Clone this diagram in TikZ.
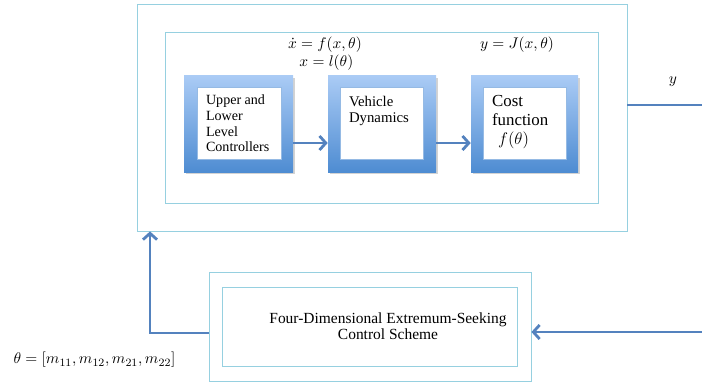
\documentclass[tikz,border=0pt]{standalone}
\usepackage{fontspec}
\setmainfont{Liberation Serif}
\usetikzlibrary{positioning,arrows.meta,shadows,calc}
\definecolor{frameCol}{RGB}{150,208,224}
\definecolor{arrowCol}{RGB}{84,130,190}
\definecolor{blockTop}{RGB}{170,203,245}
\definecolor{blockBot}{RGB}{78,140,210}
\tikzset{
  frame/.style={rectangle,draw=frameCol,line width=0.6pt,inner sep=0pt},
  block/.style={rectangle,top color=blockTop,bottom color=blockBot,
    draw=none,minimum height=24mm,inner sep=0pt,
    drop shadow={opacity=0.35,shadow xshift=0.5mm,shadow yshift=-0.6mm}},
  blockin/.style={rectangle,fill=white,draw=blockBot!60,line width=0.3pt,
    minimum width=21mm,minimum height=18mm,inner sep=0pt},
  btxt/.style={font=\fontsize{10}{11.1}\selectfont,align=left,
    inner sep=0pt,anchor=north west},
  eq/.style={font=\fontsize{11}{12.8}\selectfont,align=center,inner sep=0pt},
  arr/.style={-{Straight Barb[length=4.5pt,width=10pt]},line width=2pt,
    color=arrowCol},
  lnk/.style={line width=2pt,color=arrowCol},
}

\begin{document}
\begin{tikzpicture}
\useasboundingbox (0,0) rectangle (17.55,9.575);

% =====================================================================
%  TOP — plant with the three blocks
% =====================================================================
\node[frame,minimum width=122.5mm,minimum height=56.75mm] (plant) at (9.55,6.6375) {};
\node[frame,minimum width=108.25mm,minimum height=42.75mm] (sys) at (9.5375,6.6375) {};

% --- Blocks ---
\node[block,minimum width=27.25mm] (ulc) at (5.9625,6.475) {};
\node[blockin] (ulcIn) at (5.975,6.5) {};
\node[block,minimum width=27mm] (vd) at (9.55,6.475) {};
\node[blockin,minimum width=20.75mm] (vdIn) at (9.5375,6.5) {};
\node[block,minimum width=26.75mm] (cf) at (13.1125,6.475) {};
\node[blockin,minimum width=20.75mm] (cfIn) at (13.1125,6.5) {};

% --- Block texts ---
\node[btxt] (ulcTxt) at ([shift={(0.225,-0.2)}]ulcIn.north west)
  {Upper and\\Lower\\Level\\Controllers};
\node[btxt,font=\fontsize{10.5}{12}\selectfont] (vdTxt)
  at ([shift={(0.225,-0.22)}]vdIn.north west) {Vehicle\\Dynamics};
\node[btxt,font=\fontsize{12}{13.5}\selectfont] (cfTxt)
  at ([shift={(0.225,-0.2)}]cfIn.north west)
  {Cost\\function\\\hspace*{1.5mm}$f(\theta)$};

% --- Equations ---
\node[eq] (dyn)  at (8.125,8.46)   {$\dot{x}=f(x,\theta)$};
\node[eq] (map)  at (8.16,8.0)     {$x=l(\theta)$};
\node[eq] (cost) at (12.925,8.46)  {$y=J(x,\theta)$};
\node[eq] (ylbl) at (16.825,7.525) {$y$};

% --- Arrows between blocks ---
\draw[arr] ([yshift=-4.75mm]ulc.east) -- ([yshift=-4.75mm]vd.west);
\draw[arr] ([yshift=-4.75mm]vd.east) -- ([yshift=-4.75mm]cf.west);

% --- Output y ---
\coordinate (yout) at (17.55,6.95);
\draw[lnk] (plant.east |- yout) -- (yout);

% =====================================================================
%  BOTTOM — extremum-seeking controller and feedback
% =====================================================================
\node[frame,minimum width=80.5mm,minimum height=27.25mm] (esc) at (9.25,1.4125) {};
\node[frame,minimum width=73.75mm,minimum height=19.75mm] (escIn) at (9.2375,1.4125) {};
\node[font=\fontsize{11}{11.5}\selectfont,align=center] (escTxt) at (9.7,1.425)
  {Four-Dimensional Extremum-Seeking\\Control Scheme};

% y back into the controller
\coordinate (fbin) at (17.55,1.275);
\draw[arr] (fbin) -- (esc.east |- fbin);

% theta back to the plant
\coordinate (fbl) at (3.75,1.25);
\draw[arr] (esc.west |- fbl) -- (fbl) -- (fbl |- plant.south);
\node[eq] (theta) at (2.3625,0.575) {$\theta=[m_{11},m_{12},m_{21},m_{22}]$};

\end{tikzpicture}
\end{document}
